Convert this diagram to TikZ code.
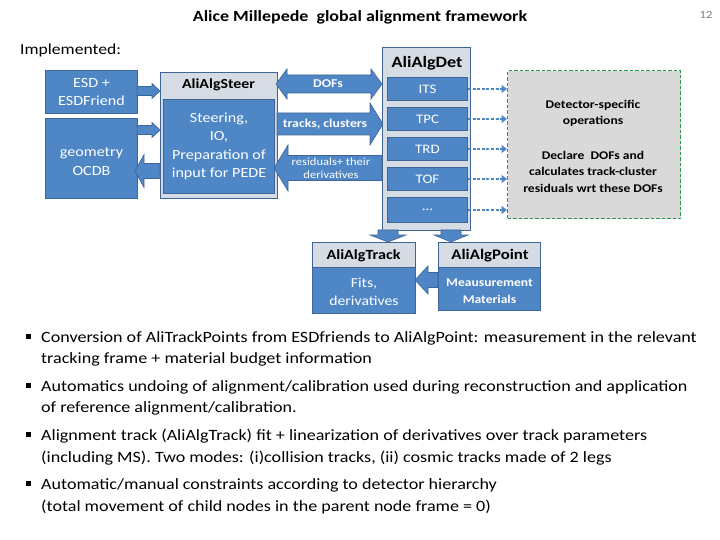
\documentclass[tikz,border=0pt]{standalone}
\usepackage{fontspec}
\setmainfont{Carlito}[FakeStretch=1.15]
\usetikzlibrary{arrows.meta,calc}
\definecolor{bfill}{RGB}{79,134,198}
\definecolor{bedge}{RGB}{62,101,150}
\definecolor{hfill}{RGB}{214,220,228}
\definecolor{gfill}{RGB}{217,217,217}
\definecolor{gedge}{RGB}{40,150,80}
\newcommand\blkright[6]{\filldraw[blk] (#1,{#3-#4}) -- ({#2-#6},{#3-#4}) -- ({#2-#6},{#3-#5}) -- (#2,#3) -- ({#2-#6},{#3+#5}) -- ({#2-#6},{#3+#4}) -- (#1,{#3+#4}) -- cycle;}
\newcommand\blkleft[6]{\filldraw[blk] (#2,{#3-#4}) -- ({#1+#6},{#3-#4}) -- ({#1+#6},{#3-#5}) -- (#1,#3) -- ({#1+#6},{#3+#5}) -- ({#1+#6},{#3+#4}) -- (#2,{#3+#4}) -- cycle;}
\newcommand\blkboth[6]{\filldraw[blk] ({#1+#6},{#3-#4}) -- ({#2-#6},{#3-#4}) -- ({#2-#6},{#3-#5}) -- (#2,#3) -- ({#2-#6},{#3+#5}) -- ({#2-#6},{#3+#4}) -- ({#1+#6},{#3+#4}) -- ({#1+#6},{#3+#5}) -- (#1,#3) -- ({#1+#6},{#3-#5}) -- cycle;}
\newcommand\blkdown[6]{\filldraw[blk] ({#1-#4},#2) -- ({#1-#4},{#3-#6}) -- ({#1-#5},{#3-#6}) -- (#1,#3) -- ({#1+#5},{#3-#6}) -- ({#1+#4},{#3-#6}) -- ({#1+#4},#2) -- cycle;}
\begin{document}
\begin{tikzpicture}[x=1pt,y=-1pt,
  blk/.style={fill=bfill,draw=bedge,line width=0.6pt},
  bluebox/.style={fill=bfill,draw=bedge,line width=1pt,text=white,anchor=north west,inner sep=0pt,align=center},
  hdrbox/.style={fill=hfill,draw=bedge,line width=1pt,anchor=north west,inner sep=0pt},
  boxtxt/.style={text=white,align=center,font=\fontsize{14}{18.5}\selectfont},
  hdrtxt/.style={font=\fontsize{13.8}{15}\selectfont\bfseries},
  subbox/.style={fill=bfill,draw=bedge,line width=1pt,text=white,anchor=north west,inner sep=0pt,minimum width=80,minimum height=23,font=\fontsize{13}{15}\selectfont},
  dasharrow/.style={draw=bfill,line width=2.2pt,dash pattern=on 3pt off 1.6pt,-{Triangle[length=5.5pt,width=8pt]}},
  bullettxt/.style={anchor=base west,inner sep=0pt,font=\fontsize{15.7}{18}\selectfont},
  greentxt/.style={align=center,font=\fontsize{11.8}{16.5}\selectfont\bfseries},
  sq/.style={fill=black,inner sep=0pt,minimum size=5pt}
]
\useasboundingbox (0,0) rectangle (720,540);
\fill[white] (0,0) rectangle (720,540);

% title
\node[font=\fontsize{15.6}{18}\selectfont\bfseries] (title) at (360,17) {Alice Millepede\ \ global alignment framework};
\node[font=\fontsize{11}{12}\selectfont,text=gray] (pnum) at (706,15) {12};
\node[anchor=west,inner sep=0pt,font=\fontsize{15.3}{17}\selectfont] (impl) at (20,50) {Implemented:};

% left boxes
\node[bluebox,minimum width=92,minimum height=43] (esd) at (45,70) {};
\node[boxtxt] at (esd.center) {ESD +\\ESDFriend};
\node[bluebox,minimum width=92,minimum height=80] (geo) at (45,118) {};
\node[boxtxt] at ($(geo.center)+(0,3)$) {geometry\\OCDB};

% steer
\node[hdrbox,minimum width=117,minimum height=126] (steer) at (160,72) {};
\node[bluebox,minimum width=111,minimum height=94] (steerbody) at (163,99) {};
\node[hdrtxt] (steerhdr) at (218.5,85) {AliAlgSteer};
\node[boxtxt] at (steerbody.center) {Steering,\\IO,\\Preparation of\\input for PEDE};

% block arrows left
\blkright{137}{160}{91}{4.5}{7.5}{8}
\blkright{137}{160}{130}{4.5}{7.5}{8}
\blkleft{135}{160}{171}{7.5}{16.5}{9}

% middle arrows
\blkboth{276}{382}{84}{9}{15}{11}
\node[text=white,font=\fontsize{12}{13}\selectfont\bfseries] (dofs) at (328,84) {DOFs};
\blkright{277}{383}{124}{11}{21}{13}
\node[text=white,font=\fontsize{12}{13}\selectfont\bfseries] (trk) at (325,124) {tracks, clusters};
\blkleft{274}{382}{168}{12.5}{23}{14}
\node[text=white,align=center,font=\fontsize{10.9}{13}\selectfont] (res) at (331,168) {residuals+ their\\derivatives};

% AliAlgDet
\node[hdrbox,minimum width=88,minimum height=183] (det) at (382,47) {};
\node[font=\fontsize{15.8}{16}\selectfont\bfseries] (dethdr) at (427,63) {AliAlgDet};
\node[subbox] (its) at (387,77) {ITS};
\node[subbox] (tpc) at (387,107) {TPC};
\node[subbox] (trd) at (387,137) {TRD};
\node[subbox] (tof) at (387,167) {TOF};
\node[subbox,minimum height=25] (etc) at (387,197) {...};

% green box
\node[fill=gfill,draw=gedge,line width=1.3pt,dash pattern=on 3.5pt off 2pt,anchor=north west,inner sep=0pt,minimum width=173,minimum height=148] (grn) at (507,70) {};
\node[greentxt] (gt1) at (593,113.5) {Detector-specific\\operations};
\node[greentxt] (gt2) at (593,171.5) {Declare\ \ DOFs and\\calculates track-cluster\\residuals wrt these DOFs};

\foreach \n in {its,tpc,trd,tof,etc}{
  \draw[dasharrow] (\n.east) -- (\n.east -| grn.west);
}

% down arrows
\blkdown{388}{230}{242}{10}{18}{7}
\blkdown{451}{230}{242}{10}{17}{7}

% AliAlgTrack
\node[hdrbox,minimum width=103,minimum height=71] (trackbox) at (312,242) {};
\node[bluebox,minimum width=103,minimum height=46] (trackbody) at (312,267) {};
\node[hdrtxt,font=\fontsize{14}{15}\selectfont\bfseries] (trackhdr) at (363.5,256) {AliAlgTrack};
\node[boxtxt,font=\fontsize{13.7}{18}\selectfont] at ($(trackbody.center)+(0,1)$) {Fits,\\derivatives};

% AliAlgPoint
\node[hdrbox,minimum width=102,minimum height=68] (pointbox) at (438,242) {};
\node[bluebox,minimum width=102,minimum height=43] (pointbody) at (438,267) {};
\node[font=\fontsize{14.6}{15}\selectfont\bfseries] (pointhdr) at (490,256) {AliAlgPoint};
\node[text=white,align=center,font=\fontsize{11.8}{17}\selectfont\bfseries] at ($(pointbody.center)+(0,2)$) {Meausurement\\Materials};

\blkleft{415}{438}{280}{7.5}{14}{13}

% bullets
\node[sq] (s1) at (28.5,336) {};
\node[sq] (s2) at (28.5,385) {};
\node[sq] (s3) at (28.5,434) {};
\node[sq] (s4) at (28.5,483) {};
\node[bullettxt] (b1a) at (41,342) {Conversion of AliTrackPoints from ESDfriends to AliAlgPoint: measurement in the relevant};
\node[bullettxt] (b1b) at (41,363) {tracking frame + material budget information};
\node[bullettxt] (b2a) at (41,391) {Automatics undoing of alignment/calibration used during reconstruction and application};
\node[bullettxt] (b2b) at (41,412) {of reference alignment/calibration.};
\node[bullettxt] (b3a) at (41,440) {Alignment track (AliAlgTrack) fit + linearization of derivatives over track parameters};
\node[bullettxt] (b3b) at (41,462) {(including MS). Two modes: (i)collision tracks, (ii) cosmic tracks made of 2 legs};
\node[bullettxt] (b4a) at (41,489) {Automatic/manual constraints according to detector hierarchy};
\node[bullettxt] (b4b) at (41,511) {(total movement of child nodes in the parent node frame = 0)};
\end{tikzpicture}
\end{document}
